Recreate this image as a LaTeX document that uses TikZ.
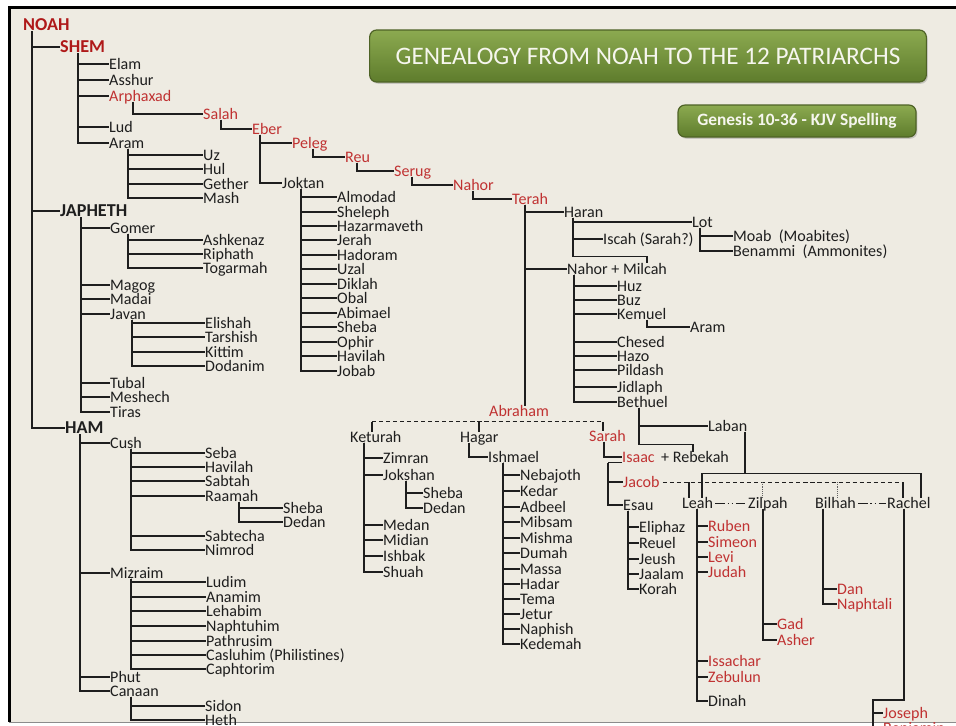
\documentclass[tikz,border=0pt]{standalone}
\usepackage{fontspec}
\setmainfont{Carlito}
\usetikzlibrary{calc, positioning, shadows}
\definecolor{paper}{RGB}{238,235,226}
\definecolor{ink}{RGB}{30,30,30}
\definecolor{lineage}{RGB}{192,50,50}
\definecolor{rootred}{RGB}{175,25,25}
\definecolor{leafgreen}{RGB}{140,170,80}
\definecolor{mossgreen}{RGB}{94,124,44}
\definecolor{edgegreen}{RGB}{78,98,38}
\definecolor{bannertext}{RGB}{246,246,238}
% trunk below a parent, one elbow per child
\newcommand\kids[3]{%
  \coordinate (#1-t) at ($(#1.south west)+(#2,0)$);
  \foreach \kid in {#3}{\draw[link] (#1-t) |- (\kid.west);}%
}

\begin{document}
\begin{tikzpicture}[
    x=0.03cm, y=-0.03cm,
    person/.style={anchor=west, inner sep=0pt, text=ink, font=\fontsize{13.7}{15}\selectfont,
                   text height=9pt, text depth=0pt},
    heir/.style={person, text=lineage},
    patriarch/.style={anchor=west, inner sep=0pt, text=ink, font=\fontsize{15.5}{17}\selectfont\bfseries,
                      text height=10pt, text depth=0pt},
    link/.style={draw=ink, line width=0.9pt},
    marry/.style={draw=ink, line width=0.8pt, dash pattern=on 3.5pt off 2.5pt},
    faint/.style={draw=ink!70, line width=0.6pt, densely dotted},
    union/.style={draw=ink, line width=0.8pt, dash pattern=on 8pt off 2.5pt on 1pt off 2.5pt on 1pt off 2.5pt},
    banner/.style={rectangle, rounded corners=6pt, draw=edgegreen, line width=1pt,
                   top color=leafgreen, bottom color=mossgreen, text=bannertext,
                   drop shadow={shadow xshift=1.2pt, shadow yshift=-1.5pt, opacity=0.35}}
]
    \useasboundingbox (0,0) rectangle (956,725);
    \fill[white] (0,0) rectangle (956,725);
    \fill[paper] (11,9) rectangle (956,722);
    \draw[black, line width=2.6pt] (8,7.5) -- (956,7.5);
    \draw[black, line width=2.6pt] (9.5,6) -- (9.5,722);
    \draw[black!45, line width=1.2pt] (9,722.5) -- (956,722.5);

    \node[banner, minimum width=16.7cm, minimum height=1.56cm, font=\fontsize{21.5}{24}\selectfont]
        (title) at (648,56) {GENEALOGY FROM NOAH TO THE 12 PATRIARCHS};
    \node[banner, minimum width=7.14cm, minimum height=0.96cm, font=\fontsize{14.8}{17}\selectfont\bfseries]
        (source) at (797,121) {Genesis 10-36 - KJV Spelling};

    % Noah and his sons
    \node[patriarch, text=rootred] (noah) at (23,25) {NOAH};
    \node[patriarch, text=rootred] (shem) at (60,47) {SHEM};
    \node[patriarch] (japheth) at (60,211) {JAPHETH};
    \node[patriarch] (ham) at (65,428) {HAM};

    % Shem
    \node[person] (elam) at (109,64) {Elam};
    \node[person] (asshur) at (109,80) {Asshur};
    \node[heir] (arphaxad) at (109,96) {Arphaxad};
    \node[person] (lud) at (109,127) {Lud};
    \node[person] (aram) at (109,143) {Aram};
    \node[person] (uz) at (203,155) {Uz};
    \node[person] (hul) at (203,169) {Hul};
    \node[person] (gether) at (203,184) {Gether};
    \node[person] (mash) at (203,198) {Mash};
    \node[heir] (salah) at (203,114) {Salah};
    \node[heir] (eber) at (252,129) {Eber};
    \node[heir] (peleg) at (292,143) {Peleg};
    \node[person] (joktan) at (282,183) {Joktan};
    \node[heir] (reu) at (345,157) {Reu};
    \node[heir] (serug) at (394,171) {Serug};
    \node[heir] (nahor) at (453,185) {Nahor};
    \node[heir] (terah) at (512,199) {Terah};

    % Joktan
    \node[person] (almodad) at (337,197) {Almodad};
    \node[person] (sheleph) at (337,212) {Sheleph};
    \node[person] (hazarmaveth) at (337,226) {Hazarmaveth};
    \node[person] (jerah) at (337,240) {Jerah};
    \node[person] (hadoram) at (337,255) {Hadoram};
    \node[person] (uzal) at (337,269) {Uzal};
    \node[person] (diklah) at (337,284) {Diklah};
    \node[person] (obal) at (337,298) {Obal};
    \node[person] (abimael) at (337,313) {Abimael};
    \node[person] (shebaj) at (337,327) {Sheba};
    \node[person] (ophir) at (337,342) {Ophir};
    \node[person] (havilahj) at (337,356) {Havilah};
    \node[person] (jobab) at (337,371) {Jobab};

    % Japheth
    \node[person] (gomer) at (110,228) {Gomer};
    \node[person] (magog) at (110,285) {Magog};
    \node[person] (madai) at (110,299) {Madai};
    \node[person] (javan) at (110,314) {Javan};
    \node[person] (tubal) at (110,383) {Tubal};
    \node[person] (meshech) at (110,397) {Meshech};
    \node[person] (tiras) at (110,412) {Tiras};
    \node[person] (ashkenaz) at (203,240) {Ashkenaz};
    \node[person] (riphath) at (203,254) {Riphath};
    \node[person] (togarmah) at (203,268) {Togarmah};
    \node[person] (elishah) at (205,323) {Elishah};
    \node[person] (tarshish) at (205,337) {Tarshish};
    \node[person] (kittim) at (205,352) {Kittim};
    \node[person] (dodanim) at (205,366) {Dodanim};

    % Ham
    \node[person] (cush) at (110,443) {Cush};
    \node[person] (mizraim) at (110,573) {Mizraim};
    \node[person] (phut) at (110,677) {Phut};
    \node[person] (canaan) at (110,691) {Canaan};
    \node[person] (seba) at (205,453) {Seba};
    \node[person] (havilahc) at (205,467) {Havilah};
    \node[person] (sabtah) at (205,481) {Sabtah};
    \node[person] (raamah) at (205,496) {Raamah};
    \node[person] (sabtecha) at (205,536) {Sabtecha};
    \node[person] (nimrod) at (205,550) {Nimrod};
    \node[person] (shebar) at (283,508) {Sheba};
    \node[person] (dedanr) at (283,522) {Dedan};
    \node[person] (ludim) at (206,582) {Ludim};
    \node[person] (anamim) at (206,597) {Anamim};
    \node[person] (lehabim) at (206,611) {Lehabim};
    \node[person] (naphtuhim) at (206,626) {Naphtuhim};
    \node[person] (pathrusim) at (206,641) {Pathrusim};
    \node[person] (casluhim) at (206,655) {Casluhim (Philistines)};
    \node[person] (caphtorim) at (206,669) {Caphtorim};
    \node[person] (sidon) at (205,706) {Sidon};
    \node[person] (heth) at (205,720) {Heth};

    % Terah
    \node[person] (haran) at (564,212) {Haran};
    \node[person] (lot) at (692,222) {Lot};
    \node[person] (iscah) at (603,239) {Iscah (Sarah?)};
    \node[person] (moab) at (733,236) {Moab\ \ (Moabites)};
    \node[person] (benammi) at (733,251) {Benammi\ \ (Ammonites)};
    \node[person] (nahorm) at (567,269) {Nahor + Milcah};
    \node[person] (huz) at (617,286) {Huz};
    \node[person] (buz) at (617,300) {Buz};
    \node[person] (kemuel) at (617,314) {Kemuel};
    \node[person] (aramk) at (690,327) {Aram};
    \node[person] (chesed) at (617,342) {Chesed};
    \node[person] (hazo) at (617,356) {Hazo};
    \node[person] (pildash) at (617,370) {Pildash};
    \node[person] (jidlaph) at (617,387) {Jidlaph};
    \node[person] (bethuel) at (617,402) {Bethuel};
    \node[person] (laban) at (708,426) {Laban};

    % Abraham
    \node[heir] (abraham) at (489,411) {Abraham};
    \node[person] (keturah) at (350,437) {Keturah};
    \node[person] (hagar) at (460,437) {Hagar};
    \node[heir] (sarah) at (589,436) {Sarah};
    \node[person] (zimran) at (383,458) {Zimran};
    \node[person] (jokshan) at (383,475) {Jokshan};
    \node[person] (medan) at (383,525) {Medan};
    \node[person] (midian) at (383,540) {Midian};
    \node[person] (ishbak) at (383,556) {Ishbak};
    \node[person] (shuah) at (383,572) {Shuah};
    \node[person] (shebak) at (423,493) {Sheba};
    \node[person] (dedank) at (423,508) {Dedan};
    \node[person] (ishmael) at (488,457) {Ishmael};
    \node[person] (nebajoth) at (520,475) {Nebajoth};
    \node[person] (kedar) at (520,491) {Kedar};
    \node[person] (adbeel) at (520,507) {Adbeel};
    \node[person] (mibsam) at (520,522) {Mibsam};
    \node[person] (mishma) at (520,538) {Mishma};
    \node[person] (dumah) at (520,553) {Dumah};
    \node[person] (massa) at (520,569) {Massa};
    \node[person] (hadar) at (520,584) {Hadar};
    \node[person] (tema) at (520,599) {Tema};
    \node[person] (jetur) at (520,614) {Jetur};
    \node[person] (naphish) at (520,629) {Naphish};
    \node[person] (kedemah) at (520,644) {Kedemah};

    % Isaac and Jacob
    \node[heir] (isaac) at (622,457) {Isaac};
    \node[person] (rebekah) at (661,457) {+ Rebekah};
    \node[heir] (jacob) at (623,482) {Jacob};
    \node[person] (esau) at (623,505) {Esau};
    \node[person] (eliphaz) at (639,527) {Eliphaz};
    \node[person] (reuel) at (639,543) {Reuel};
    \node[person] (jeush) at (639,559) {Jeush};
    \node[person] (jaalam) at (639,574) {Jaalam};
    \node[person] (korah) at (639,589) {Korah};
    \node[person] (leah) at (682,503) {Leah};
    \node[person] (zilpah) at (748,503) {Zilpah};
    \node[person] (bilhah) at (815,503) {Bilhah};
    \node[person] (rachel) at (887,503) {Rachel};
    \node[heir] (ruben) at (708,526) {Ruben};
    \node[heir] (simeon) at (708,542) {Simeon};
    \node[heir] (levi) at (708,557) {Levi};
    \node[heir] (judah) at (708,572) {Judah};
    \node[heir] (issachar) at (708,661) {Issachar};
    \node[heir] (zebulun) at (708,677) {Zebulun};
    \node[person] (dinah) at (708,701) {Dinah};
    \node[heir] (gad) at (777,624) {Gad};
    \node[heir] (asher) at (777,640) {Asher};
    \node[heir] (dan) at (837,589) {Dan};
    \node[heir] (naphtali) at (837,604) {Naphtali};
    \node[heir] (joseph) at (883,713) {Joseph};
    \node[heir] (benjamin) at (883,728) {Benjamin};

    % connectors
    \kids{noah}{9}{shem,japheth,ham}
    \kids{shem}{18}{elam,asshur,arphaxad,lud,aram}
    \kids{aram}{19}{uz,hul,gether,mash}
    \kids{arphaxad}{24}{salah}
    \kids{salah}{18}{eber}
    \kids{eber}{8}{peleg,joktan}
    \kids{peleg}{21}{reu}
    \kids{reu}{12}{serug}
    \kids{serug}{18}{nahor}
    \kids{nahor}{20}{terah}
    \kids{joktan}{19}{almodad,sheleph,hazarmaveth,jerah,hadoram,uzal,diklah,obal,abimael,shebaj,ophir,havilahj,jobab}
    \kids{japheth}{21}{gomer,magog,madai,javan,tubal,meshech,tiras}
    \kids{gomer}{18}{ashkenaz,riphath,togarmah}
    \kids{javan}{22}{elishah,tarshish,kittim,dodanim}
    \kids{ham}{15}{cush,mizraim,phut,canaan}
    \kids{cush}{21}{seba,havilahc,sabtah,raamah,sabtecha,nimrod}
    \kids{raamah}{34}{shebar,dedanr}
    \kids{mizraim}{21}{ludim,anamim,lehabim,naphtuhim,pathrusim,casluhim,caphtorim}
    \kids{canaan}{21}{sidon,heth}

    \kids{terah}{13}{haran,nahorm}
    \draw[link] (terah-t) -- (terah-t |- abraham.north);
    \kids{haran}{9}{lot,iscah}
    \coordinate (milcah) at ($(nahorm.north west)+(80,0)$);
    \draw[link] (haran-t) |- ($(milcah)+(0,-7)$) -- (milcah);
    \kids{lot}{8}{moab,benammi}
    \kids{nahorm}{7}{huz,buz,kemuel,chesed,hazo,pildash,jidlaph,bethuel}
    \kids{kemuel}{30}{aramk}
    \kids{bethuel}{22}{laban}
    \coordinate (rebtop) at ($(rebekah.north west)+(32,0)$);
    \draw[link] (bethuel-t) |- ($(rebtop)+(0,-7)$) -- (rebtop);

    % Abraham's wives
    \coordinate (abbar) at ($(abraham.south)+(0,5)$);
    \coordinate (ketj) at ($(keturah.north west)+(22,0)$);
    \coordinate (hagj) at ($(hagar.north west)+(19,0)$);
    \coordinate (sarj) at ($(sarah.north west)+(14,0)$);
    \draw[marry] (ketj |- abbar) -- (sarj |- abbar);
    \draw[link] (ketj) -- (ketj |- abbar);
    \draw[link] (hagj) -- (hagj |- abbar);
    \draw[link] (sarj) -- (sarj |- abbar);
    \kids{keturah}{14}{zimran,jokshan,medan,midian,ishbak,shuah}
    \kids{jokshan}{23}{shebak,dedank}
    \kids{hagar}{9}{ishmael}
    \kids{ishmael}{15}{nebajoth,kedar,adbeel,mibsam,mishma,dumah,massa,hadar,tema,jetur,naphish,kedemah}
    \kids{sarah}{15}{isaac}

    % Isaac's sons
    \coordinate (isaac-t) at ($(isaac.south west)+(-14,0)$);
    \draw[link] (isaac.south west) -- (isaac-t);
    \foreach \kid in {jacob,esau} \draw[link] (isaac-t) |- (\kid.west);
    \kids{esau}{5}{eliphaz,reuel,jeush,jaalam,korah}

    % Laban's daughters
    \coordinate (laban-t) at ($(laban.south west)+(37,0)$);
    \coordinate (labanbar) at ($(laban-t)+(0,42)$);
    \coordinate (leahl) at ($(leah.north west)+(20,0)$);
    \coordinate (rachell) at ($(rachel.north west)+(34,0)$);
    \draw[link] (laban-t) -- (labanbar);
    \draw[link] (leahl) |- (labanbar) -| (rachell);

    % Jacob's wives
    \coordinate (leahj) at ($(leah.north west)+(7,0)$);
    \coordinate (zilj) at ($(zilpah.north west)+(14,0)$);
    \coordinate (bilj) at ($(bilhah.north west)+(22,0)$);
    \coordinate (racj) at ($(rachel.north west)+(16,0)$);
    \coordinate (jacobend) at ($(jacob.east)+(3,0)$);
    \draw[marry] (jacobend) -- (racj |- jacobend);
    \draw[link] (leahj) -- (leahj |- jacobend);
    \draw[faint] (zilj) -- (zilj |- jacobend);
    \draw[faint] (bilj) -- (bilj |- jacobend);
    \draw[link] (racj) -- (racj |- jacobend);
    \draw[union] ($(leah.east)+(2,0)$) -- ($(zilpah.west)+(-1,0)$);
    \draw[union] ($(bilhah.east)+(2,0)$) -- ($(rachel.west)+(-1,0)$);

    % the twelve and Dinah
    \kids{leah}{15}{ruben,simeon,levi,judah,issachar,zebulun,dinah}
    \kids{zilpah}{15}{gad,asher}
    \kids{bilhah}{8}{dan,naphtali}
    \coordinate (rachel-t) at ($(rachel.south west)+(17,0)$);
    \coordinate (rbend) at (873,700);
    \draw[link] (rachel-t) |- (rbend) |- (joseph.west);
    \draw[link] (rbend) |- (benjamin.west);
\end{tikzpicture}
\end{document}
